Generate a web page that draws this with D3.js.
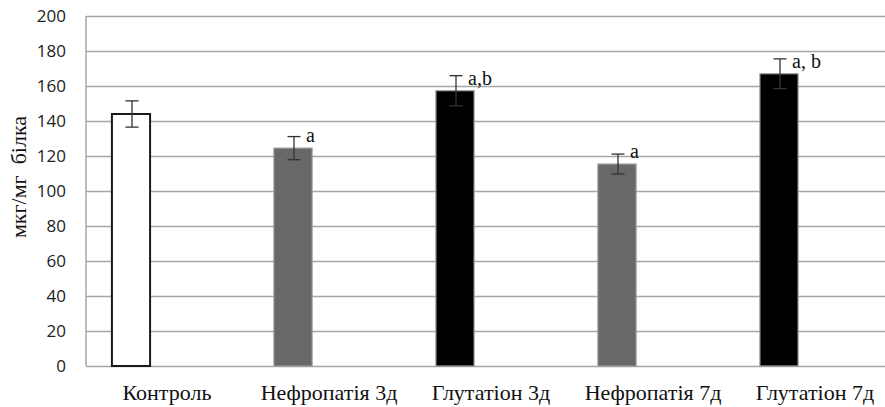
<!DOCTYPE html>
<html>
<head>
<meta charset="utf-8">
<script src="https://cdn.jsdelivr.net/npm/d3@7"></script>
<style>
    body { margin: 0; background: #fff; }
    .tick text { font-family: 'Open Sans', sans-serif; font-size: 17px; fill: #222; }
    .catLabel { font-family: 'Liberation Serif', serif; font-size: 22px; fill: #111; }
    .axisTitle { font-family: 'Liberation Serif', serif; font-size: 22px; fill: #111; }
    .mark { font-family: 'Liberation Serif', serif; font-size: 20px; fill: #111; }
</style>
</head>
<body>
<script>
(function(){

// DATA

    const categories = ['Контроль', 'Нефропатія 3д', 'Глутатіон 3д', 'Нефропатія 7д', 'Глутатіон 7д'];
    const values = [144, 124.5, 157.3, 115.4, 167];
    const errors = [7.5, 6.6, 8.6, 5.7, 8.5];
    const marks = ['', 'a', 'a,b', 'a', 'a, b'];
    const yTicks = [0, 20, 40, 60, 80, 100, 120, 140, 160, 180, 200];

    const width = 885,
        height = 407,
        left = 86,
        top = 16,
        plotBottom = 366,
        plotRight = 896;

    const svg = d3
        .select('body')
        .append('svg')
        .attr('width', width)
        .attr('height', height);

    const x = d3.scaleBand()
        .domain(categories)
        .range([left, plotRight]);

    // bars sit in the first of two slots, like a two-series column chart
    const xSlot = d3.scaleBand()
        .domain(['value', 'empty'])
        .range([0, x.bandwidth()])
        .paddingInner(0.47)
        .paddingOuter(0.36);

    const y = d3.scaleLinear()
        .domain([0, 200])
        .range([plotBottom, top]);

    const fill = d3.scaleOrdinal()
        .domain(categories)
        .range(['#ffffff', '#686868', '#000000', '#686868', '#000000']);

    const rows = categories.map(function(c, i){
        return {cat: c, value: values[i], err: errors[i], mark: marks[i]};
    });

// GRID + AXES

    const yAxis = d3.axisLeft(y)
        .tickValues(yTicks)
        .tickSize(-(width - left))
        .tickPadding(20);

    const axis = svg
        .append('g')
        .attr('transform', 'translate(' + left + ',0)')
        .call(yAxis);

    axis.select('.domain').remove();
    axis.selectAll('.tick line')
        .attr('stroke', '#a6a6a6')
        .attr('stroke-width', 1.5);

    svg.append('line')
        .attr('x1', left).attr('x2', left)
        .attr('y1', top).attr('y2', plotBottom)
        .attr('stroke', '#a6a6a6')
        .attr('stroke-width', 1.5);

// BARS

    const barX = function(d){ return x(d.cat) + xSlot('value'); };
    const barW = xSlot.bandwidth();

    svg.selectAll('.bar')
        .data(rows)
        .enter()
        .append('rect')
        .attr('class', 'bar')
        .attr('x', barX)
        .attr('y', function(d){ return y(d.value); })
        .attr('width', barW)
        .attr('height', function(d){ return y(0) - y(d.value); })
        .attr('fill', function(d){ return fill(d.cat); })
        .attr('stroke', function(d, i){ return i === 0 ? '#1a1a1a' : '#9a9a9a'; })
        .attr('stroke-width', function(d, i){ return i === 0 ? 2 : 1.2; });

// ERROR BARS

    const errG = svg.selectAll('.err')
        .data(rows)
        .enter()
        .append('g')
        .attr('class', 'err')
        .attr('stroke', '#333')
        .attr('stroke-width', 1.3);

    const cx = function(d){ return barX(d) + barW / 2 + 1; };

    errG.append('line')
        .attr('x1', cx).attr('x2', cx)
        .attr('y1', function(d){ return y(d.value + d.err); })
        .attr('y2', function(d){ return y(d.value - d.err); });

    [1, -1].forEach(function(s){
        errG.append('line')
            .attr('x1', function(d){ return cx(d) - 6.5; })
            .attr('x2', function(d){ return cx(d) + 6.5; })
            .attr('y1', function(d){ return y(d.value + s * d.err); })
            .attr('y2', function(d){ return y(d.value + s * d.err); });
    });

// SIGNIFICANCE MARKS

    svg.selectAll('.mark')
        .data(rows.filter(function(d){ return d.mark; }))
        .enter()
        .append('text')
        .attr('class', 'mark')
        .attr('x', function(d){ return cx(d) + 12; })
        .attr('y', function(d){ return y(d.value) - 6; })
        .text(function(d){ return d.mark; });

// CATEGORY LABELS

    svg.selectAll('.catLabel')
        .data(categories)
        .enter()
        .append('text')
        .attr('class', 'catLabel')
        .attr('x', function(d){ return x(d) + x.bandwidth() / 2; })
        .attr('y', 400)
        .attr('text-anchor', 'middle')
        .text(function(d){ return d; });

// AXIS TITLE

    svg.append('text')
        .attr('class', 'axisTitle')
        .attr('transform', 'translate(26,' + 177 + ') rotate(-90)')
        .attr('text-anchor', 'middle')
        .attr('xml:space', 'preserve')
        .style('white-space', 'pre')
        .text('мкг/мг  білка');

})();
</script>
</body>
</html>
